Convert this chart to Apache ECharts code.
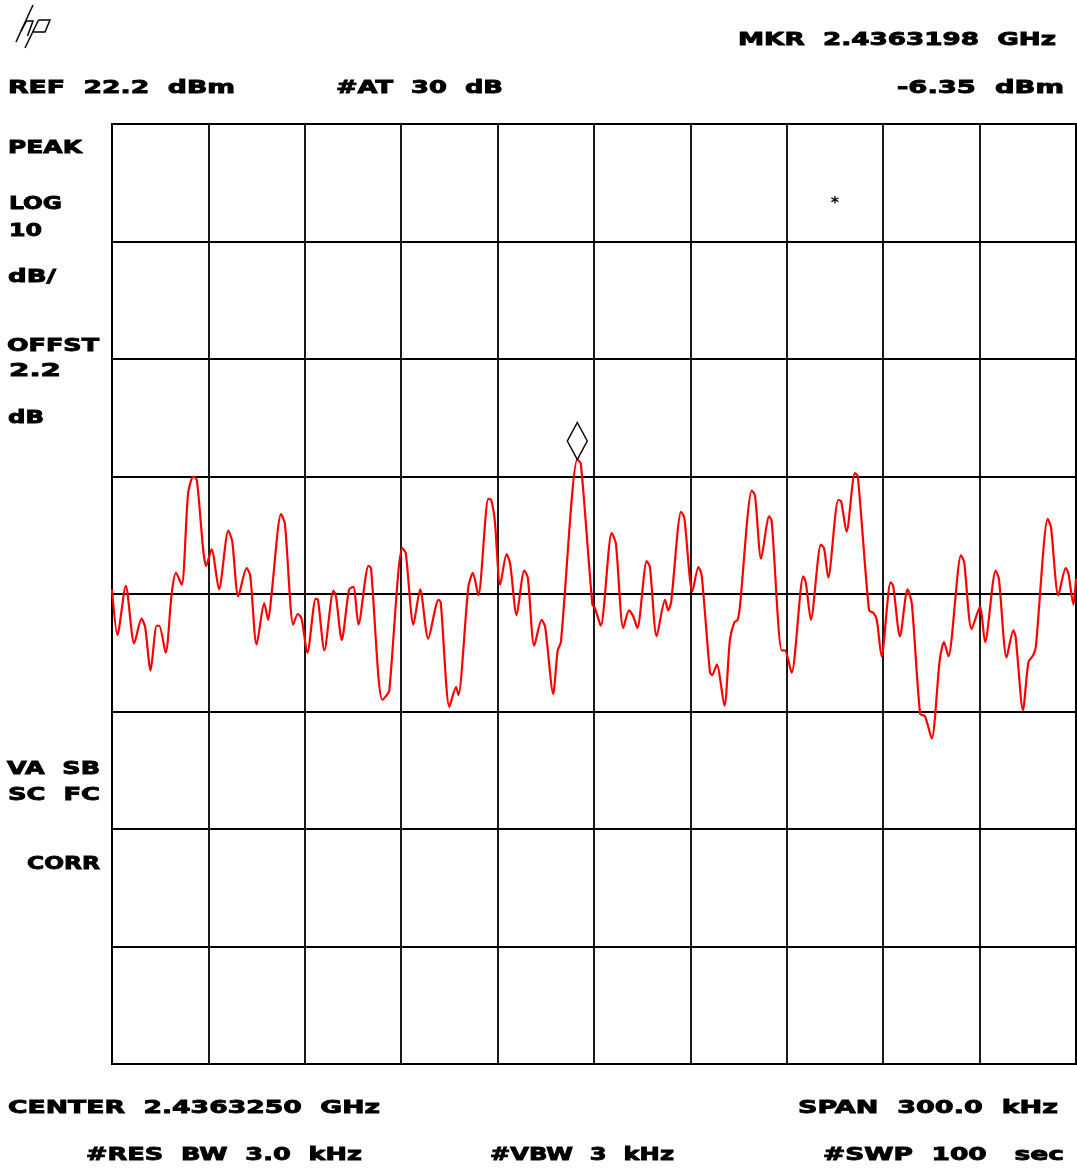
<!DOCTYPE html>
<html>
<head>
<meta charset="utf-8">
<title>HP spectrum analyzer plot</title>
<script src="https://cdn.jsdelivr.net/npm/echarts@6/dist/echarts.min.js"></script>
<style>
  html, body { margin: 0; padding: 0; background: #fff; }
  #chart { width: 1077px; height: 1169px; }
</style>
</head>
<body>
<div id="chart"></div>
<script>
// analyzer settings
const refLevel = 22.2      // dBm, top of screen
const dbPerDiv = 10
const spanKHz = 300
const markerFreqKHz = 144.8  // 2.4363198 GHz, offset from start freq
const markerDbm = -6.35

// trace: frequency offset from start (kHz) and level (dBm)
const freqKHz = [
  0, 1.7, 4.3, 6.9, 9.2, 10.3, 12.0, 13.9, 14.7, 16.7,
  18.6, 19.9, 21.7, 23.7, 25.3, 26.4, 28.4, 29.3, 31.0, 33.3,
  36.2, 37.4, 39.3, 41.9, 43.0, 45.0, 47.4, 48.6, 49.7, 52.6,
  53.8, 56.4, 57.8, 59.0, 60.8, 63.4, 64.1, 66.1, 68.9, 69.7,
  71.5, 73.8, 75.1, 76.7, 79.8, 80.6, 82.9, 84.1, 85.5, 86.3,
  90.3, 91.4, 93.8, 95.9, 98.4, 101.6, 102.3, 105.0, 107.1, 107.8,
  110.9, 112.3, 114.0, 117.1, 118.0, 119.1, 120.8, 122.8, 123.9, 125.9,
  128.3, 129.4, 131.4, 133.7, 134.8, 137.3, 138.7, 139.7, 144.8, 145.9,
  149.5, 150.3, 152.1, 155.5, 156.8, 159.1, 160.9, 162.2, 163.5, 166.4,
  167.4, 169.5, 172.1, 173.1, 174.0, 177.1, 178.1, 180.6, 182.5, 183.5,
  186.1, 186.8, 188.2, 190.6, 192.3, 193.7, 194.7, 195.4, 199.1, 200.1,
  202.0, 204.5, 205.3, 208.4, 209.4, 211.5, 215.1, 215.9, 217.5, 220.6,
  221.6, 222.9, 226.0, 226.9, 228.6, 231.2, 232.1, 235.6, 236.9, 238.0,
  239.5, 242.3, 243.1, 245.2, 247.6, 248.9, 251.5, 253.0, 255.1, 257.6,
  258.9, 260.3, 264.2, 265.2, 267.5, 270.1, 271.7, 275.0, 276.0, 278.4,
  280.5, 281.2, 283.5, 285.2, 286.7, 287.5, 291.2, 292.2, 294.5, 296.8,
  297.6, 299.2, 300
]
const levelDbm = [
  -17.4, -21.3, -17.1, -22.0, -19.9, -20.6, -24.3, -20.5, -20.5, -22.8,
  -17.7, -16.0, -17.0, -9.2, -7.8, -8.1, -14.1, -15.4, -14.0, -17.4,
  -12.4, -13.3, -18.0, -15.6, -16.2, -22.1, -18.6, -20.0, -17.7, -11.0,
  -11.8, -20.4, -19.5, -19.9, -22.8, -18.2, -18.3, -22.6, -17.5, -18.0,
  -21.7, -17.4, -17.2, -20.4, -15.4, -15.6, -24.8, -26.8, -26.4, -26.0,
  -13.9, -14.3, -20.4, -17.4, -21.6, -18.3, -18.5, -27.4, -25.7, -26.4,
  -17.2, -16.0, -17.9, -9.7, -9.8, -11.5, -17.0, -14.4, -15.2, -19.6,
  -15.8, -16.4, -22.2, -20.0, -20.6, -26.3, -22.6, -21.9, -6.35, -6.7,
  -18.7, -19.0, -20.5, -12.6, -13.5, -20.7, -19.2, -19.7, -20.7, -15.0,
  -15.5, -21.4, -18.3, -19.2, -18.5, -10.8, -11.3, -17.6, -15.5, -16.2,
  -24.5, -24.7, -23.8, -27.3, -21.7, -20.2, -20.0, -18.9, -9.0, -9.4,
  -14.8, -11.2, -11.6, -22.6, -22.6, -24.5, -16.3, -16.8, -20.0, -13.6,
  -13.9, -16.4, -9.8, -9.9, -12.5, -7.5, -7.8, -19.2, -19.4, -20.0,
  -23.1, -16.8, -17.1, -21.4, -17.4, -18.6, -28.0, -28.2, -30.1, -23.4,
  -21.9, -23.1, -14.5, -15.1, -20.8, -18.9, -21.9, -15.8, -16.5, -23.2,
  -20.9, -21.4, -27.7, -23.6, -23.0, -22.3, -11.4, -12.1, -17.9, -15.6,
  -16.0, -18.7, -16.5
]

const LABEL_FONT = 'bold 18px "DejaVu Sans"'
const measureCtx = document.createElement('canvas').getContext('2d')

// screen annotation, stretched horizontally to the width it takes on the plot
const label = (text, left, right, cy) => {
  measureCtx.font = LABEL_FONT
  const w = measureCtx.measureText(text).width
  return {
    type: 'text',
    x: left,
    y: cy,
    scaleX: (right - left) / w,
    style: {
      text: text,
      font: LABEL_FONT,
      fill: '#000',
      stroke: '#000',
      lineWidth: 0.9,
      textAlign: 'left',
      textVerticalAlign: 'middle',
      verticalAlign: 'middle'
    }
  }
}

const logoLine = (points) => ({
  type: 'polyline',
  shape: { points: points },
  style: { stroke: '#000', lineWidth: 1.5, fill: null }
})

const myChart = echarts.init(document.getElementById('chart'))

const option = {
  animation: false,
  backgroundColor: '#fff',
  grid: {
    show: true,
    left: 112,
    top: 124,
    width: 964,
    height: 940,
    borderColor: '#000',
    borderWidth: 2,
    containLabel: false
  },
  xAxis: {
    type: 'value',
    min: 0,
    max: spanKHz,
    interval: spanKHz / 10,
    axisLine: { show: false },
    axisTick: { show: false },
    axisLabel: { show: false },
    splitLine: { show: true, lineStyle: { color: '#000', width: 1.8 } }
  },
  yAxis: {
    // dB relative to reference level
    type: 'value',
    min: -8 * dbPerDiv,
    max: 0,
    interval: dbPerDiv,
    axisLine: { show: false },
    axisTick: { show: false },
    axisLabel: { show: false },
    splitLine: { show: true, lineStyle: { color: '#000', width: 1.8 } }
  },
  series: [
    {
      type: 'line',
      data: freqKHz.map((f, i) => [f, levelDbm[i] - refLevel]),
      showSymbol: false,
      smooth: 0.25,
      lineStyle: { color: '#ff0000', width: 2.2 },
      markPoint: {
        symbol: 'diamond',
        symbolSize: [20, 37],
        symbolOffset: [0, '-50%'],
        silent: true,
        label: { show: false },
        itemStyle: { color: '#fff', borderColor: '#000', borderWidth: 1.5 },
        data: [{ coord: [markerFreqKHz, markerDbm - refLevel] }]
      }
    }
  ],
  graphic: [
    // hp logo
    logoLine([[33, 5], [16, 42]]),
    logoLine([[21, 31], [26.5, 21], [33, 21], [27.5, 36]]),
    logoLine([[38.5, 20], [25, 48]]),
    logoLine([[38.5, 20], [50, 20], [45, 32], [33, 32]]),

    label('MKR  2.4363198  GHz', 738, 1056, 40),
    label('REF  22.2  dBm', 8, 235, 88),
    label('#AT  30  dB', 336, 503, 88),
    label('-6.35  dBm', 897, 1064, 88),

    label('PEAK', 8, 82, 148),
    label('LOG', 9, 62, 204),
    label('10', 9, 42, 231),
    label('dB/', 8, 56, 277),
    label('OFFST', 7, 99, 346),
    label('2.2', 9, 61, 371),
    label('dB', 8, 44, 418),
    label('VA  SB', 7, 100, 769),
    label('SC  FC', 8, 100, 795),
    label('CORR', 27, 100, 864),

    label('CENTER  2.4363250  GHz', 8, 380, 1108),
    label('SPAN  300.0  kHz', 798, 1058, 1108),
    label('#RES  BW  3.0  kHz', 86, 362, 1155),
    label('#VBW  3  kHz', 490, 674, 1155),
    label('#SWP  100   sec', 823, 1064, 1155),

    // asterisk on the screen
    { type: 'text', x: 835, y: 204, style: { text: '*', font: 'bold 16px "DejaVu Sans"', fill: '#000', textAlign: 'center', textVerticalAlign: 'middle', verticalAlign: 'middle' } }
  ]
}

myChart.setOption(option)
</script>
</body>
</html>
